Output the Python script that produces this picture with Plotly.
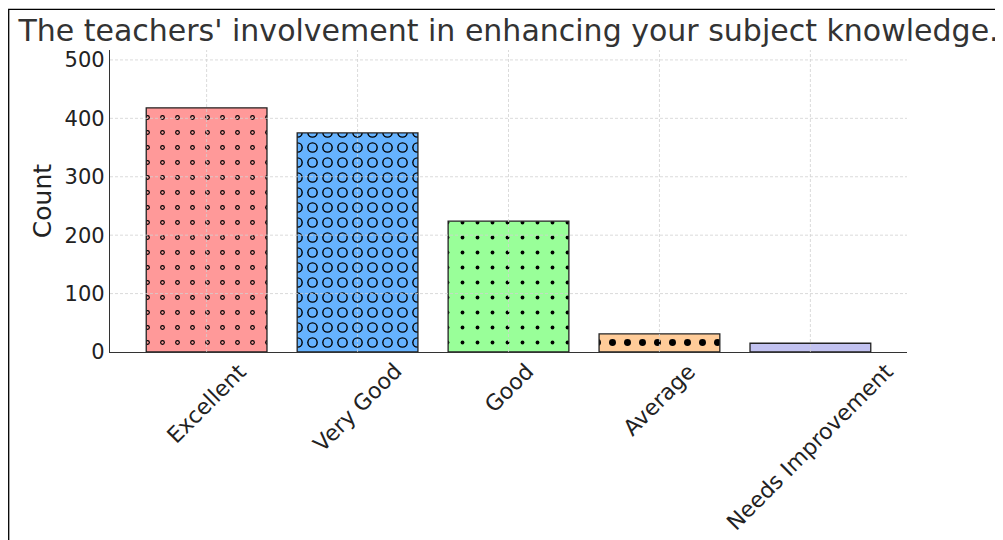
import plotly.graph_objects as go

categories = ["Excellent", "Very Good", "Good", "Average", "Needs Improvement"]
counts = [418, 375, 224, 31, 15]
colors = ["#ff9999", "#66b3ff", "#99ff99", "#ffcc99", "#c2c2f0"]
title_text = "The teachers' involvement in enhancing your subject knowledge."
y_ticks = [0, 100, 200, 300, 400, 500]

W, H = 1003, 540
# page is offset by the 8px body margin, so margins are page-position minus 8
L, R, T, B = 102, 104, 42, 196
FONT = "DejaVu Sans"
EDGE = "#222222"
GRID = "#d2d2d2"

# hatch emulation: black dots on the bar colour, then smaller dots in the bar
# colour on top of them -> rings ("o" / "O"); plain dots "." ; big dots for "*"
base_shapes = [".", ".", ".", ".", ""]
base_solidity = [0.08, 0.40, 0.05, 0.17, 0.1]
ring_shapes = [".", ".", "", "", ""]
ring_solidity = [0.02, 0.215, 0.1, 0.1, 0.1]
x_idx = list(range(len(categories)))

fig = go.Figure()
for i in x_idx:
    fig.add_trace(go.Bar(
        x=[i], y=[counts[i]], width=0.8,
        marker=dict(
            color=colors[i],
            line=dict(width=0),
            pattern=dict(shape=base_shapes[i], size=15, solidity=base_solidity[i],
                         fgcolor="black", bgcolor=colors[i], fillmode="replace", fgopacity=1),
        ),
        showlegend=False, hoverinfo="skip",
    ))
for i in x_idx:
    fig.add_trace(go.Bar(
        x=[i], y=[counts[i]], width=0.8,
        marker=dict(
            color="rgba(0,0,0,0)",
            line=dict(width=1.3, color=EDGE),
            pattern=dict(shape=ring_shapes[i], size=15, solidity=ring_solidity[i],
                         fgcolor=colors[i], bgcolor="rgba(0,0,0,0)", fillmode="replace", fgopacity=1),
        ),
        showlegend=False, hoverinfo="skip",
    ))

# grid drawn above the bars (as in the reference)
for v in y_ticks[1:]:
    fig.add_shape(type="line", xref="paper", yref="y", x0=0, x1=1, y0=v, y1=v,
                  line=dict(color=GRID, width=0.8, dash="3px,2px"), layer="above")
for i in x_idx:
    fig.add_shape(type="line", xref="x", yref="paper", x0=i, x1=i, y0=0, y1=1,
                  line=dict(color=GRID, width=0.8, dash="3px,2px"), layer="above")

# rotated category labels, bbox centred under each tick (matplotlib style)
for i, c in enumerate(categories):
    fig.add_annotation(x=i, y=0, xref="x", yref="y", text=c, showarrow=False,
                       textangle=-45, xanchor="center", yanchor="top", yshift=-4,
                       font=dict(family=FONT, size=22, color="#222222"))

# outer figure frame
px2x = lambda p: (p - L) / (W - L - R)
px2y = lambda p: (H - B - p) / (H - T - B)
fig.add_shape(type="rect", xref="paper", yref="paper",
              x0=px2x(0.7), x1=px2x(1100), y0=px2y(700), y1=px2y(1.3),
              line=dict(color="black", width=1.3), fillcolor="rgba(0,0,0,0)", layer="above")

fig.update_layout(
    width=W, height=H,
    margin=dict(l=L, r=R, t=T, b=B, pad=0),
    paper_bgcolor="white", plot_bgcolor="white",
    barmode="overlay",
    font=dict(family=FONT, color="#222222"),
    title=dict(text=title_text, x=0.5, xref="paper", xanchor="center",
               y=1 - 22 / H, yref="container", yanchor="middle",
               font=dict(family=FONT, size=30, color="#333333")),
    xaxis=dict(
        range=[-0.64, 4.64], tickmode="array", tickvals=x_idx, ticktext=categories,
        showticklabels=False, ticks="", automargin=False,
        showline=True, linecolor="#333333", linewidth=1.3, mirror=False,
        showgrid=False, zeroline=False,
    ),
    yaxis=dict(
        range=[0, 517], tickmode="array", tickvals=y_ticks, automargin=False,
        ticks="",
        tickfont=dict(family=FONT, size=21, color="#222222"),
        showline=True, linecolor="#333333", linewidth=1.3,
        showgrid=False, zeroline=False,
        title=dict(text="Count", font=dict(family=FONT, size=25, color="#222222"), standoff=5),
    ),
)

fig.write_html("out.html")
